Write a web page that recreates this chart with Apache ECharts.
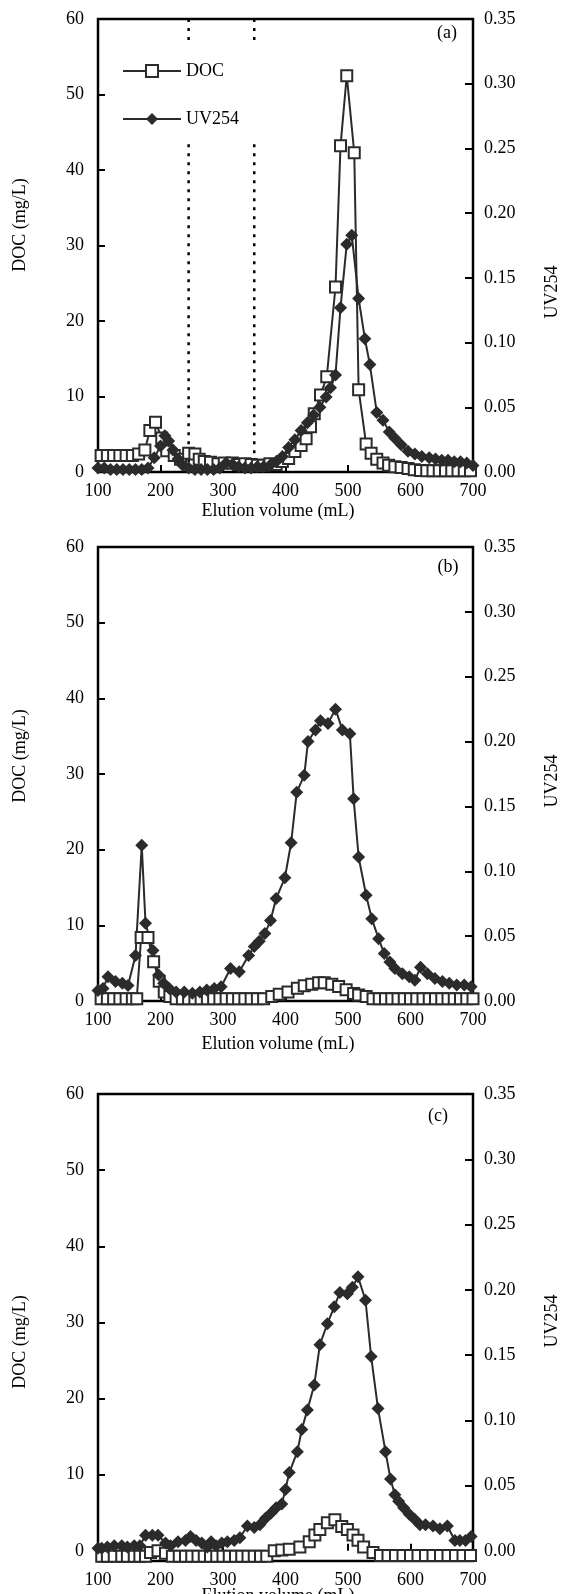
<!DOCTYPE html>
<html>
<head>
<meta charset="utf-8">
<script src="https://cdn.jsdelivr.net/npm/echarts@6/dist/echarts.min.js"></script>
<style>
html, body { margin: 0; padding: 0; background: #fff; }
#main { width: 567px; height: 1594px; }
</style>
</head>
<body>
<div id="main"></div>
<script>
// axis ticks
var xTicks = [100, 200, 300, 400, 500, 600, 700];
var docTicks = [0, 10, 20, 30, 40, 50, 60];
var uvTicks = [0, 0.05, 0.10, 0.15, 0.20, 0.25, 0.30, 0.35];

// (a) fraction boundaries (dotted lines)
var cutLinesA = [245, 350];

// (a)
var docAx = [105,115,125,135,145,155,165,175,183,192,202,210,222,232,245,255,262,270,280,292,302,315,325,335,345,355,365,375,385,395,405,415,425,433,440,446,456,466,480,488,498,510,517,529,537,546,556,565,575,585,596,606,616,626,636,646,656,666,676,686,696];
var docAy = [2.2,2.2,2.2,2.2,2.2,2.2,2.4,2.9,5.5,6.6,4.5,2.8,2.2,1.7,2.5,2.4,1.7,1.4,1.3,1.1,1.2,1.2,1.0,1.1,1.0,0.9,0.9,1.1,1.0,1.4,1.8,2.7,3.5,4.4,6.0,7.7,10.2,12.6,24.5,43.2,52.5,42.3,10.9,3.7,2.5,1.7,1.2,0.9,0.7,0.6,0.45,0.3,0.2,0.15,0.15,0.15,0.15,0.15,0.15,0.15,0.15];
var uvAx = [100,110,120,130,140,150,160,170,180,190,200,207,213,220,228,236,245,255,265,275,285,295,305,315,325,335,345,355,365,375,385,395,405,415,425,435,445,455,465,472,480,488,498,506,517,527,535,546,556,566,575,585,596,607,618,630,640,650,660,670,680,690,700];
var uvAy = [0.003,0.003,0.002,0.002,0.002,0.002,0.002,0.002,0.003,0.011,0.020,0.028,0.024,0.017,0.010,0.005,0.003,0.002,0.002,0.002,0.002,0.003,0.007,0.006,0.004,0.003,0.003,0.004,0.004,0.005,0.008,0.012,0.019,0.025,0.032,0.038,0.044,0.050,0.058,0.065,0.075,0.127,0.176,0.183,0.134,0.103,0.083,0.046,0.040,0.031,0.026,0.021,0.016,0.014,0.012,0.011,0.010,0.009,0.009,0.008,0.008,0.007,0.005];

// (b)
var docBx = [105,115,125,135,145,155,162,169,180,189,198,206,215,225,235,245,255,265,275,285,295,305,315,325,335,345,355,365,378,390,404,419,430,442,453,462,474,485,497,509,517,529,540,550,560,570,580,590,600,610,620,630,640,650,660,670,680,690,700];
var docBy = [0.3,0.3,0.3,0.3,0.3,0.3,0.3,8.4,8.4,5.2,2.6,1.2,0.6,0.3,0.3,0.3,0.3,0.3,0.3,0.3,0.3,0.3,0.3,0.3,0.3,0.3,0.3,0.3,0.6,0.9,1.2,1.7,2.0,2.2,2.4,2.4,2.2,1.9,1.5,1.0,0.8,0.6,0.3,0.3,0.3,0.3,0.3,0.3,0.3,0.3,0.3,0.3,0.3,0.3,0.3,0.3,0.3,0.3,0.3];
var uvBx = [100,108,116,128,139,148,160,170,176,188,197,205,214,225,238,251,263,274,286,297,312,326,341,350,358,367,376,385,399,409,418,430,436,448,456,468,480,491,503,509,517,529,538,549,558,567,575,587,598,607,616,627,639,651,662,674,686,697];
var uvBy = [0.008,0.0097,0.0187,0.015,0.0136,0.012,0.035,0.120,0.060,0.039,0.020,0.0136,0.0097,0.007,0.007,0.006,0.007,0.0085,0.0097,0.011,0.025,0.0225,0.035,0.042,0.046,0.052,0.062,0.079,0.095,0.122,0.161,0.174,0.200,0.209,0.216,0.214,0.225,0.209,0.206,0.156,0.111,0.0815,0.0635,0.048,0.0366,0.030,0.025,0.021,0.0187,0.016,0.026,0.021,0.0174,0.015,0.0136,0.0123,0.0123,0.011];

// (c)
var docCx = [106,115,126,138,147,158,167,176,184,196,208,219,230,240,250,260,270,280,290,300,310,320,330,340,350,360,370,382,394,406,423,438,447,455,467,479,490,499,508,516,525,540,552,564,576,588,600,612,624,636,648,660,672,684,696];
var docCy = [-0.7,-0.7,-0.7,-0.7,-0.7,-0.7,-0.7,-0.7,-0.2,0.0,-0.3,-0.7,-0.7,-0.7,-0.7,-0.7,-0.7,-0.7,-0.7,-0.7,-0.7,-0.7,-0.7,-0.7,-0.7,-0.7,-0.7,0.0,0.1,0.2,0.5,1.2,2.1,2.8,3.7,4.1,3.2,2.8,2.1,1.4,0.5,-0.2,-0.6,-0.6,-0.6,-0.6,-0.6,-0.6,-0.6,-0.6,-0.6,-0.6,-0.6,-0.6,-0.6];
var uvCx = [100,106,115,126,138,147,158,167,176,187,196,208,216,228,240,248,257,266,275,281,289,298,307,318,327,339,350,359,368,377,385,394,400,406,419,426,435,446,455,467,478,487,499,507,516,528,537,548,560,568,575,581,589,598,607,615,624,636,647,659,671,679,688,697];
var uvCy = [0.002,0.002,0.003,0.004,0.004,0.003,0.004,0.004,0.012,0.012,0.012,0.006,0.004,0.007,0.008,0.011,0.008,0.006,0.003,0.007,0.004,0.006,0.007,0.008,0.010,0.019,0.018,0.020,0.025,0.029,0.033,0.036,0.047,0.060,0.076,0.093,0.108,0.127,0.158,0.174,0.187,0.198,0.197,0.202,0.210,0.192,0.149,0.109,0.076,0.055,0.043,0.038,0.033,0.028,0.024,0.020,0.020,0.019,0.017,0.019,0.008,0.008,0.008,0.011];

var FONT = '"Liberation Serif", "Times New Roman", serif';
var INK = '#2b2b2b';

function pairs(xs, ys) {
    return xs.map(function (x, i) { return [x, ys[i]]; });
}

// layout of the three panels
var panels = [
    { top: 19,   height: 453, docMin: 0,     doc: pairs(docAx, docAy), uv: pairs(uvAx, uvAy), tag: '(a)', tagX: 447, tagY: 33,
      docNameY: 225, uvNameY: 292, xNameY: 511 },
    { top: 547,  height: 454, docMin: 0,     doc: pairs(docBx, docBy), uv: pairs(uvBx, uvBy), tag: '(b)', tagX: 448, tagY: 567,
      docNameY: 756, uvNameY: 781, xNameY: 1044 },
    { top: 1094, height: 467, docMin: -1.33, doc: pairs(docCx, docCy), uv: pairs(uvCx, uvCy), tag: '(c)', tagX: 438, tagY: 1116,
      docNameY: 1342, uvNameY: 1321, xNameY: 1596 }
];

var myChart = echarts.init(document.getElementById('main'));

var grid = [], xAxis = [], yAxis = [], series = [], graphic = [];
var labelStyle = { fontFamily: FONT, fontSize: 18, color: '#000' };
var tickStyle = { color: '#000', width: 2 };

panels.forEach(function (p, i) {
    grid.push({ left: 98, right: 94, top: p.top, height: p.height, show: true, borderColor: '#000', borderWidth: 2.5 });
    xAxis.push({
        type: 'value', gridIndex: i, min: 100, max: 700, interval: 100,
        axisLine: { show: false }, splitLine: { show: false },
        axisTick: { inside: true, length: 7, lineStyle: tickStyle },
        axisLabel: Object.assign({ margin: 10 }, labelStyle)
    });
    yAxis.push({
        type: 'value', gridIndex: i, position: 'left', min: p.docMin, max: 60,
        axisLine: { show: false }, splitLine: { show: false },
        axisTick: { inside: true, length: 7, lineStyle: tickStyle, customValues: docTicks },
        axisLabel: Object.assign({ margin: 14, customValues: docTicks }, labelStyle)
    });
    yAxis.push({
        type: 'value', gridIndex: i, position: 'right', min: p.docMin / 60 * 0.35, max: 0.35,
        axisLine: { show: false }, splitLine: { show: false },
        axisTick: { inside: true, length: 8, lineStyle: tickStyle, customValues: uvTicks },
        axisLabel: Object.assign({ margin: 11, customValues: uvTicks,
            formatter: function (v) { return v.toFixed(2); } }, labelStyle)
    });
    series.push({
        name: 'DOC', type: 'line', xAxisIndex: i, yAxisIndex: 2 * i, data: p.doc, clip: false,
        symbol: 'rect', symbolSize: 11,
        lineStyle: { color: INK, width: 2 },
        itemStyle: { color: '#fff', borderColor: INK, borderWidth: 2 }
    });
    series.push({
        name: 'UV254', type: 'line', xAxisIndex: i, yAxisIndex: 2 * i + 1, data: p.uv, clip: false,
        symbol: 'diamond', symbolSize: 13,
        lineStyle: { color: INK, width: 2 },
        itemStyle: { color: INK }
    });
    graphic.push(
        { type: 'text', x: p.tagX, y: p.tagY,
          style: { text: p.tag, font: '18px ' + FONT, fill: '#000', textAlign: 'center', textVerticalAlign: 'middle' } },
        { type: 'text', x: 20, y: p.docNameY, rotation: Math.PI / 2,
          style: { text: 'DOC (mg/L)', font: '18px ' + FONT, fill: '#000', textAlign: 'center', textVerticalAlign: 'middle' } },
        { type: 'text', x: 552, y: p.uvNameY, rotation: Math.PI / 2,
          style: { text: 'UV254', font: '18px ' + FONT, fill: '#000', textAlign: 'center', textVerticalAlign: 'middle' } },
        { type: 'text', x: 278, y: p.xNameY,
          style: { text: 'Elution volume (mL)', font: '18px ' + FONT, fill: '#000', textAlign: 'center', textVerticalAlign: 'middle' } }
    );
});

// dotted fraction lines in (a), broken where the legend sits
cutLinesA.forEach(function (x) {
    series.push({
        type: 'line', xAxisIndex: 0, yAxisIndex: 0, symbol: 'none', silent: true,
        data: [[x, 60], [x, 57.1], [x, '-'], [x, 43.4], [x, 0]],
        lineStyle: { color: '#000', width: 2.5, type: [3, 6] }
    });
});

var option = {
    animation: false,
    grid: grid,
    xAxis: xAxis,
    yAxis: yAxis,
    legend: {
        orient: 'vertical', left: 117, top: 57, itemWidth: 58, itemHeight: 15, itemGap: 30,
        selectedMode: false, data: ['DOC', 'UV254'],
        textStyle: { fontFamily: FONT, fontSize: 18, color: '#000' }
    },
    graphic: graphic,
    series: series
};
myChart.setOption(option);
</script>
</body>
</html>
